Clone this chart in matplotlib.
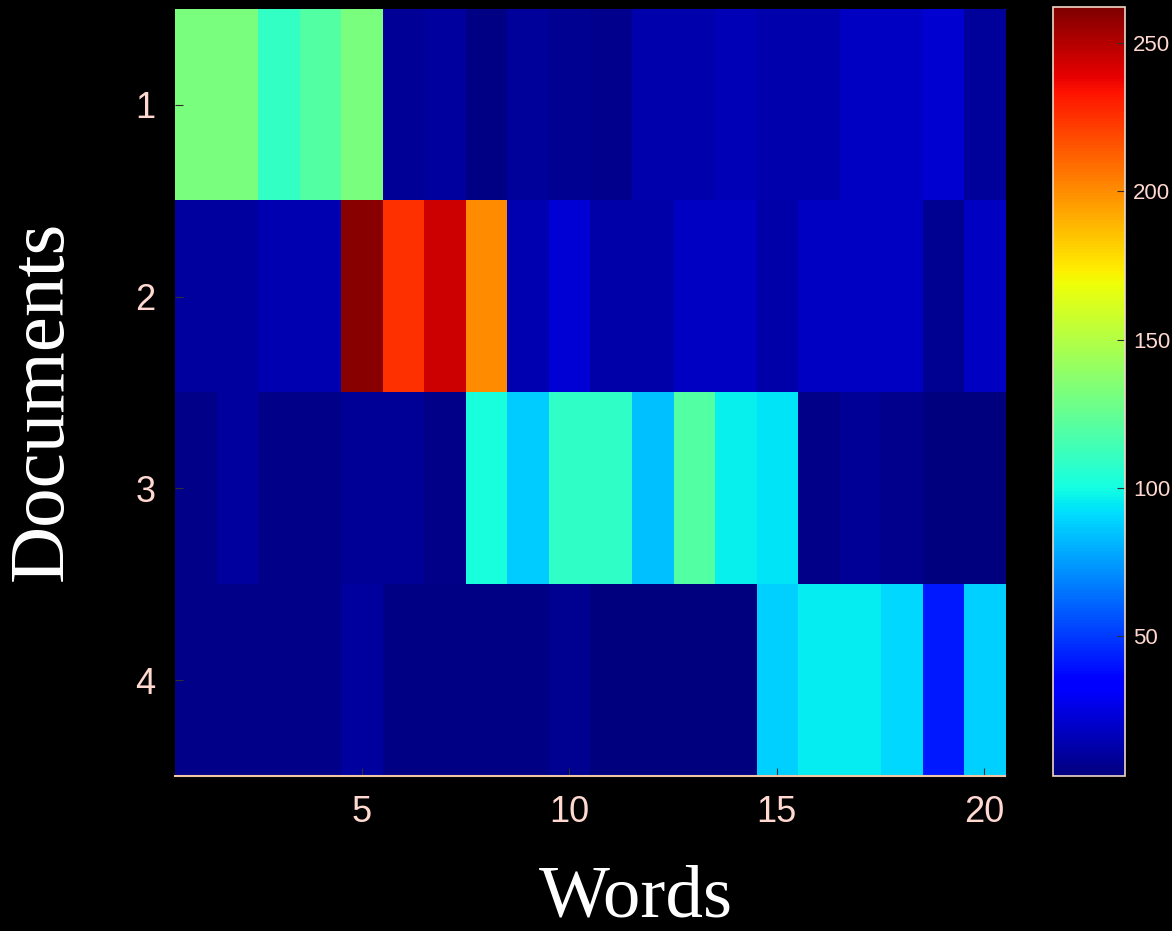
import numpy as np
import matplotlib
matplotlib.use("Agg")
import matplotlib.pyplot as plt

# word counts per document
doc1 = [132, 132, 110, 120, 132, 9, 11, 5, 10, 8, 7, 14, 14, 16, 14, 14, 19, 19, 22, 10]
doc2 = [11, 11, 15, 15, 259, 225, 244, 200, 15, 23, 13, 13, 19, 19, 13, 19, 19, 19, 8, 19]
doc3 = [6, 11, 6, 6, 9, 9, 6, 102, 87, 109, 109, 84, 120, 97, 94, 6, 9, 7, 4, 4]
doc4 = [6, 6, 6, 6, 11, 5, 5, 5, 5, 8, 3, 3, 3, 3, 88, 96, 96, 91, 42, 88]
docs = ["1", "2", "3", "4"]
xticks = [5, 10, 15, 20]
cbar_ticks = [50, 100, 150, 200, 250]
vmin, vmax = 3, 262

counts = np.array([doc1, doc2, doc3, doc4])
tick_col = "#ffd8d0"

fig = plt.figure(figsize=(11.72, 9.31), dpi=100, facecolor="black")
ax = fig.add_axes([0.1493, 0.1665, 0.7082, 0.8238])
cax = fig.add_axes([0.8985, 0.1665, 0.0614, 0.826])

im = ax.imshow(counts, cmap="jet", vmin=vmin, vmax=vmax, aspect="auto",
               interpolation="nearest",
               extent=[0.5, counts.shape[1] + 0.5, counts.shape[0] + 0.5, 0.5])
ax.set_facecolor("black")
ax.set_xticks(xticks)
ax.set_yticks(range(1, len(docs) + 1))
ax.set_yticklabels(docs)
ax.tick_params(colors="#303030", labelcolor=tick_col, labelsize=26,
               direction="in", length=6, pad=14)
for lab in ax.get_xticklabels() + ax.get_yticklabels():
    lab.set_family("Liberation Sans")
for name, sp in ax.spines.items():
    sp.set_visible(name == "bottom")
ax.spines["bottom"].set_color("#f0c8a8")
ax.spines["bottom"].set_linewidth(1.5)

cb = fig.colorbar(im, cax=cax, ticks=cbar_ticks)
cb.outline.set_edgecolor("#f0d8c8")
cb.outline.set_linewidth(1.2)
cax.tick_params(colors="#303030", labelcolor=tick_col, labelsize=16,
                direction="in", length=6, pad=6)
for lab in cax.get_yticklabels():
    lab.set_family("Liberation Sans")

fig.text(0.543, 0.016, "Words", color="white", fontsize=54,
         family="Liberation Serif", ha="center", va="baseline")
fig.text(0.037, 0.57, "Documents", color="white", fontsize=57,
         family="Liberation Serif", ha="center", va="center", rotation=90)

fig.savefig("out.png", dpi=100, facecolor="black")
